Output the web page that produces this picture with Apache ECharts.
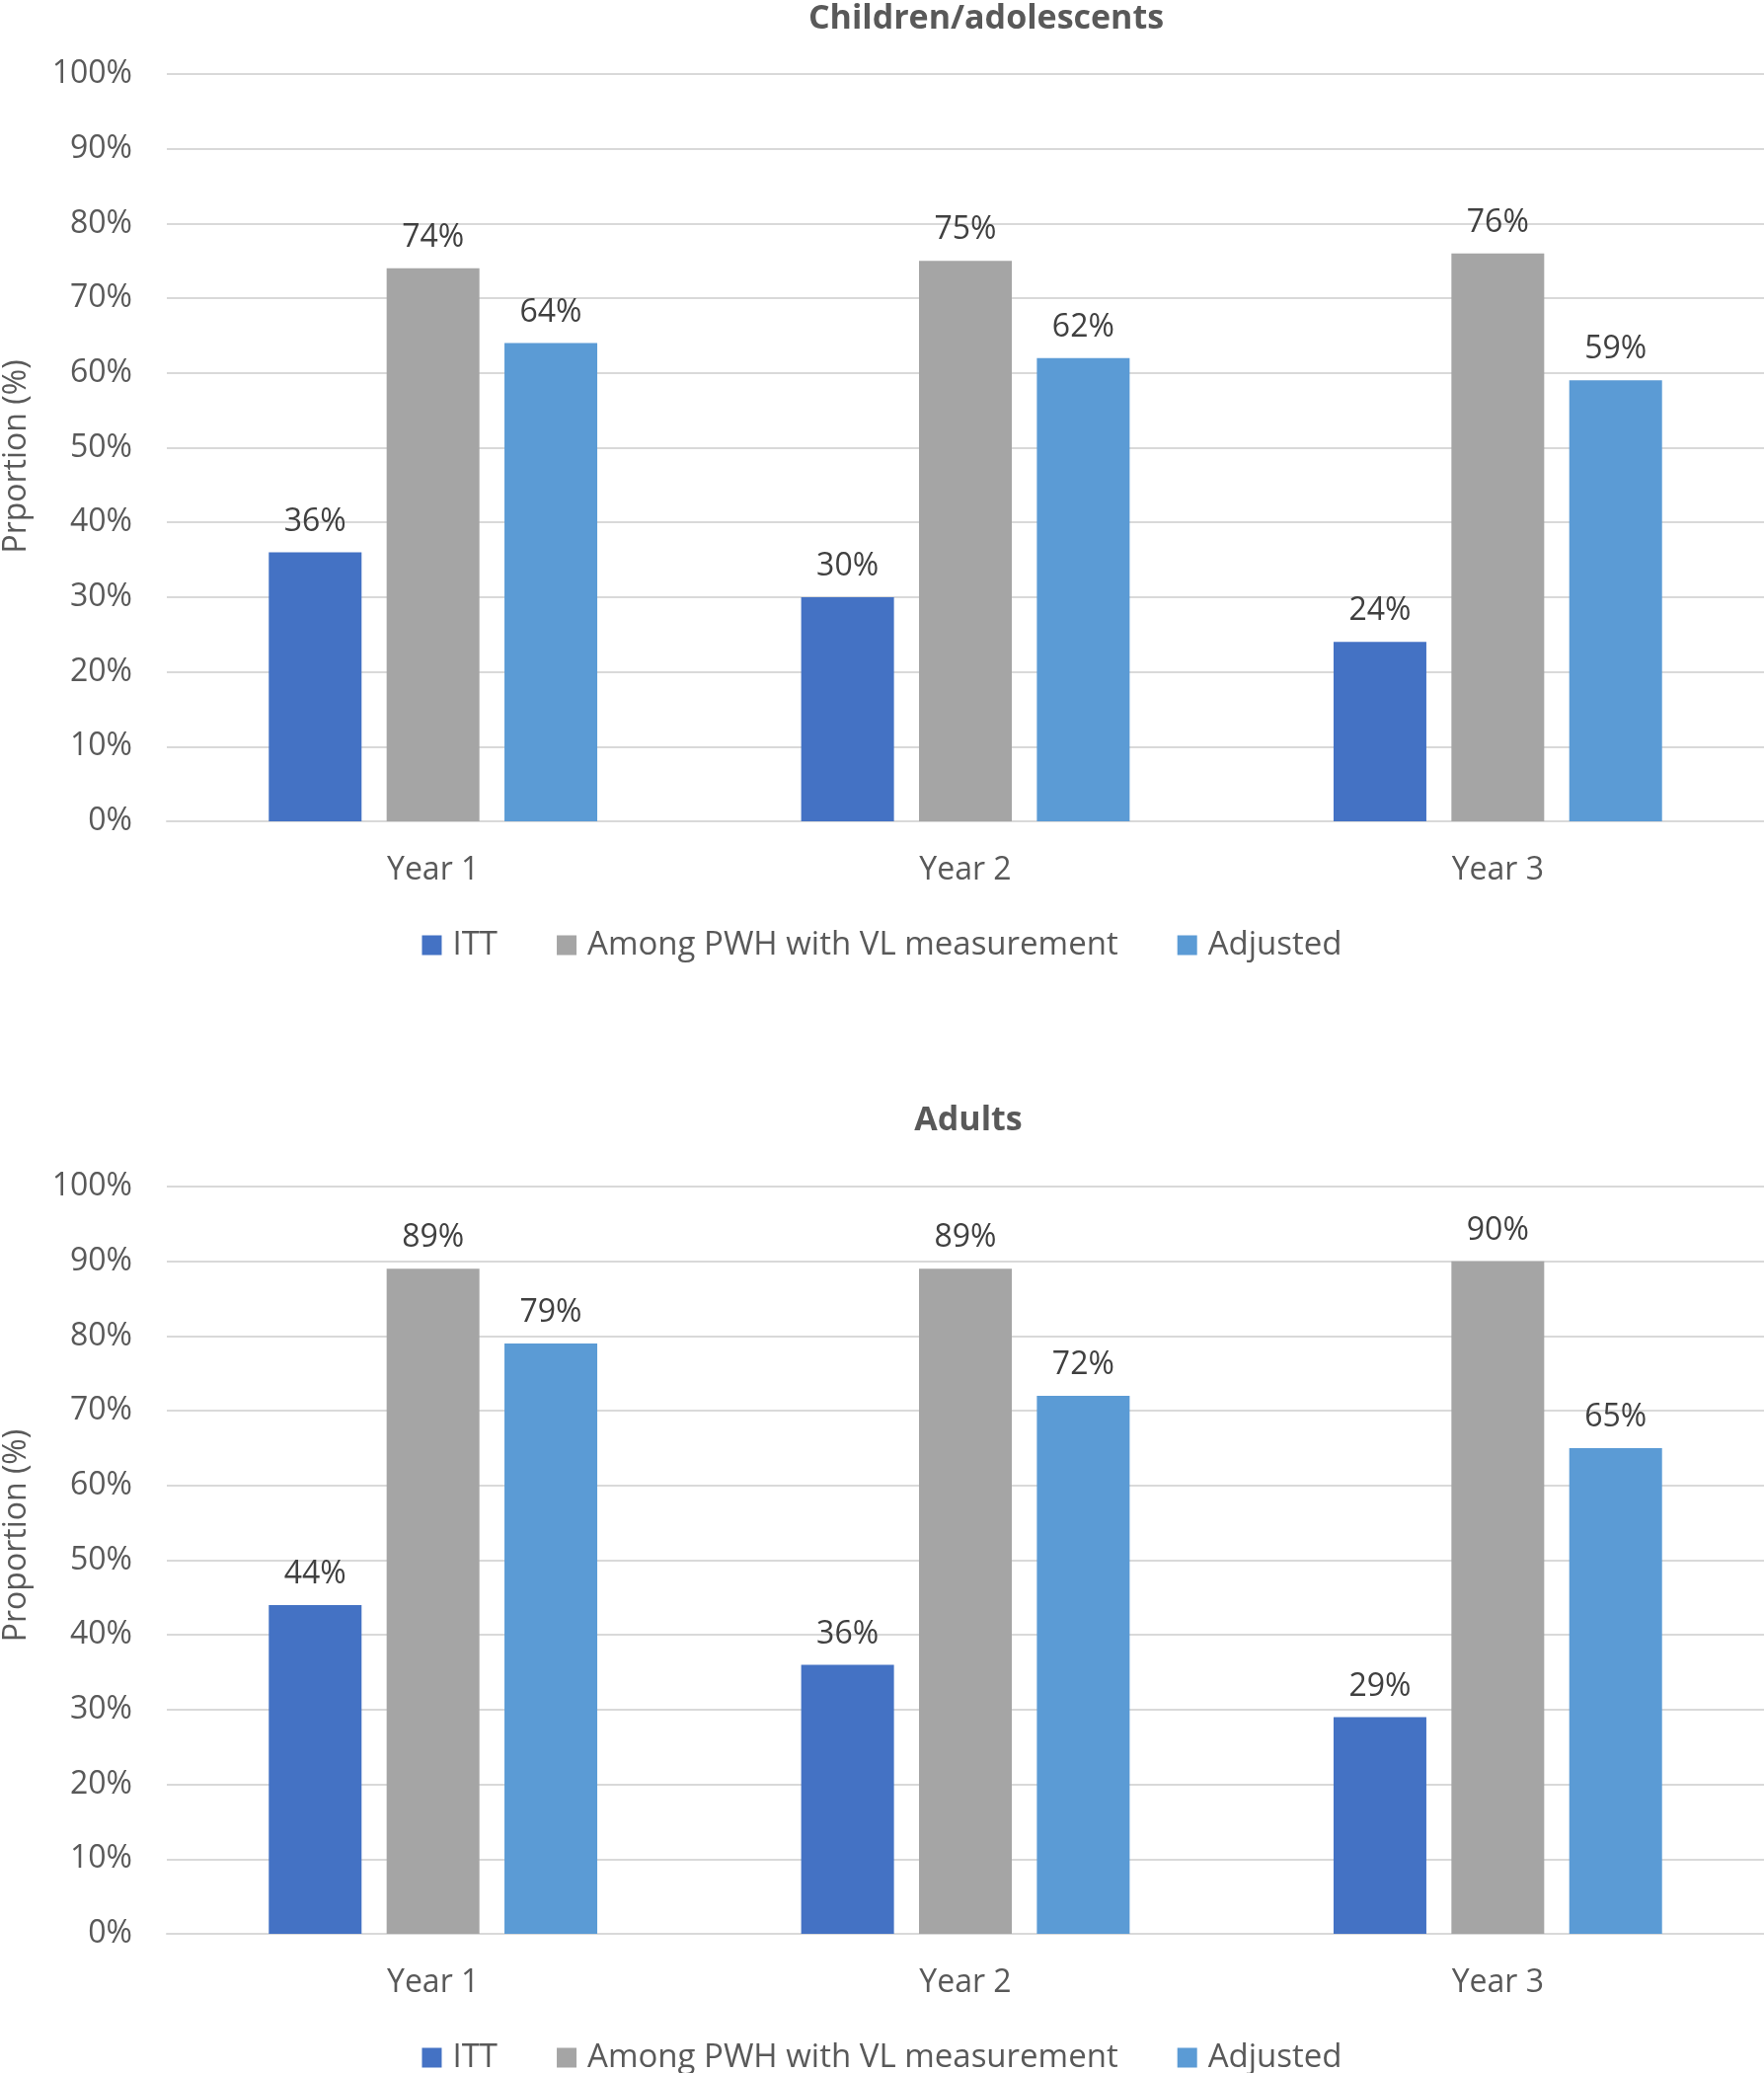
<!DOCTYPE html>
<html>
<head>
<meta charset="utf-8">
<script src="https://cdn.jsdelivr.net/npm/echarts@6/dist/echarts.min.js"></script>
<style>
html,body{margin:0;padding:0;background:#fff;}
#c{width:1787px;height:2100px;}
</style>
</head>
<body>
<div id="c"></div>
<script>
const categories = ['Year 1', 'Year 2', 'Year 3'];
const seriesNames = ['ITT', 'Among PWH with VL measurement', 'Adjusted'];
const childITT = [36, 30, 24];
const childVL = [74, 75, 76];
const childAdj = [64, 62, 59];
const adultITT = [44, 36, 29];
const adultVL = [89, 89, 90];
const adultAdj = [79, 72, 65];
const yTicks = [0, 10, 20, 30, 40, 50, 60, 70, 80, 90, 100];
const titles = ['Children/adolescents', 'Adults'];
const yNames = ['Prportion (%)', 'Proportion (%)'];

const colors = ['#4472C4', '#A5A5A5', '#5B9BD5'];
const FONT = 'Open Sans';

const chart = echarts.init(document.getElementById('c'), null, {renderer: 'canvas'});

function xAxisFor(gi) {
  return {
    type: 'category', gridIndex: gi, data: categories,
    axisLine: {show: true, lineStyle: {color: '#d9d9d9', width: 2}},
    axisTick: {show: false},
    axisLabel: {color: '#595959', fontFamily: FONT, fontSize: 32, margin: 34}
  };
}
const namePads = [[0, 18, 0, 0], [0, 0, 0, 50]];
function yAxisFor(gi) {
  return {
    type: 'value', gridIndex: gi, min: yTicks[0], max: yTicks[yTicks.length - 1], interval: 10,
    name: yNames[gi], nameLocation: 'middle', nameGap: 136,
    nameTextStyle: {color: '#595959', fontFamily: FONT, fontSize: 32, padding: namePads[gi]},
    axisLine: {show: false}, axisTick: {show: false},
    axisLabel: {color: '#595959', fontFamily: FONT, fontSize: 32, margin: 35,
      formatter: v => v + '%'},
    splitLine: {lineStyle: {color: '#d9d9d9', width: 2}}
  };
}
function barSeries(name, data, idx, gi) {
  return {
    type: 'bar', name: name, data: data,
    xAxisIndex: gi, yAxisIndex: gi,
    barWidth: 94, barGap: '27%',
    itemStyle: {color: colors[idx]},
    label: {show: true, position: 'top', distance: 15, color: '#404040',
      fontFamily: FONT, fontSize: 32, formatter: p => p.value + '%'}
  };
}
const legendCommon = {
  left: 'center', icon: 'rect', itemWidth: 20, itemHeight: 20, itemGap: 60,
  data: seriesNames,
  textStyle: {color: '#595959', fontFamily: FONT, fontSize: 33, padding: [0, 0, 0, 6]}
};

chart.setOption({
  animation: false,
  backgroundColor: '#ffffff',
  title: [
    {text: titles[0], left: 999, top: 2, padding: 0, textAlign: 'center',
      textStyle: {color: '#595959', fontFamily: FONT, fontSize: 34, fontWeight: 'bold'}},
    {text: titles[1], left: 981, top: 1118, padding: 0, textAlign: 'center',
      textStyle: {color: '#595959', fontFamily: FONT, fontSize: 34, fontWeight: 'bold'}}
  ],
  legend: [
    Object.assign({}, legendCommon, {top: 936}),
    Object.assign({}, legendCommon, {top: 2063})
  ],
  grid: [
    {left: 169, right: 0, top: 75, height: 757, containLabel: false, outerBoundsMode: 'none'},
    {left: 169, right: 0, top: 1202, height: 757, containLabel: false, outerBoundsMode: 'none'}
  ],
  xAxis: [xAxisFor(0), xAxisFor(1)],
  yAxis: [yAxisFor(0), yAxisFor(1)],
  series: [
    barSeries(seriesNames[0], childITT, 0, 0),
    barSeries(seriesNames[1], childVL, 1, 0),
    barSeries(seriesNames[2], childAdj, 2, 0),
    barSeries(seriesNames[0], adultITT, 0, 1),
    barSeries(seriesNames[1], adultVL, 1, 1),
    barSeries(seriesNames[2], adultAdj, 2, 1)
  ]
});
</script>
</body>
</html>
